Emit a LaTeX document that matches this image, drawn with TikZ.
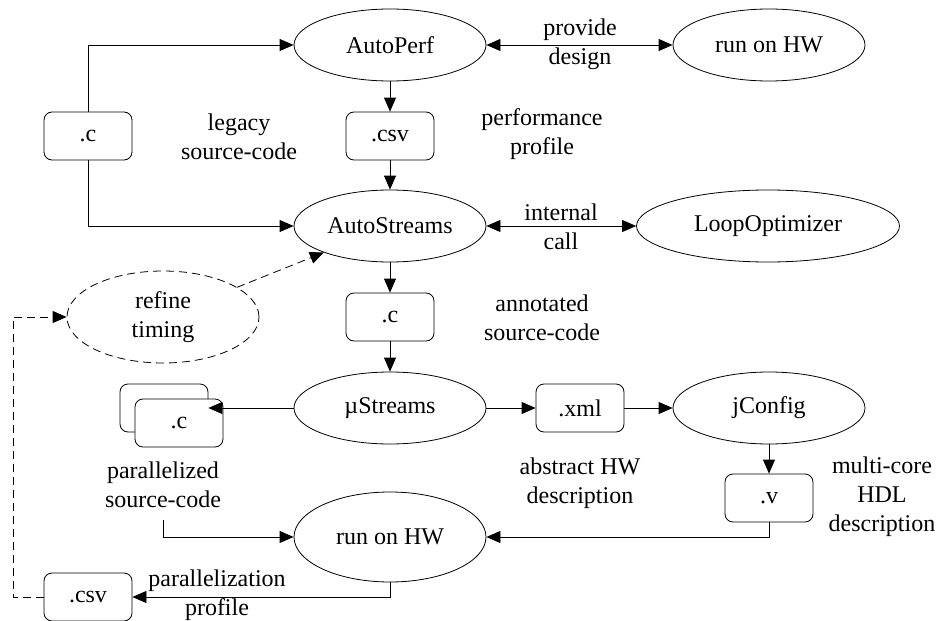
\documentclass[tikz,border=0pt]{standalone}
\usepackage{fontspec}
\newfontfamily\timesfont{Liberation Serif}
\usetikzlibrary{shapes.geometric,arrows.meta}
\begin{document}
\begin{tikzpicture}[x=1pt,y=-1pt,
  txt/.style={font=\timesfont\fontsize{24}{29}\selectfont},
  proc/.style={txt,ellipse,draw,line width=0.8pt,minimum width=192pt,minimum height=72pt,inner sep=0pt,align=center},
  file/.style={txt,rectangle,rounded corners=8pt,draw,line width=0.8pt,minimum width=88pt,minimum height=48pt,inner sep=0pt,fill=white},
  lbl/.style={txt,align=center,inner sep=0pt},
  arr/.style={-{Triangle[length=14pt,width=12pt]},line width=0.8pt},
  biarr/.style={{Triangle[length=14pt,width=12pt]}-{Triangle[length=14pt,width=12pt]},line width=0.8pt},
  dsh/.style={dash pattern=on 8pt off 5pt},
]
\useasboundingbox (0,0) rectangle (938,621);

% nodes
\node[proc] (autoperf) at (390,45) {AutoPerf};
\node[proc] (hw1) at (769,45) {run on HW};
\node[file] (c1) at (88,136) {.c};
\node[file] (csv1) at (390,136) {.csv};
\node[proc] (autostreams) at (390,226) {AutoStreams};
\node[proc,minimum width=263pt] (loop) at (768,226) {LoopOptimizer};
\node[proc,dsh,minimum height=92pt] (refine) at (163,317) {refine\\timing};
\node[file] (c2) at (390,317) {.c};
\node[proc] (ustreams) at (390,408) {µStreams};
\node[file] (xml) at (580,408) {.xml};
\node[proc] (jconfig) at (769,408) {jConfig};
\node[file] (cback) at (164,408) {};
\node[file] (cfront) at (179,423) {.c};
\node[file] (v) at (769,498) {.v};
\node[proc,minimum height=90pt] (hw2) at (390,537) {run on HW};
\node[file] (csv2) at (88,597) {.csv};

% labels
\node[lbl] (lprov) at (580,44) {provide\\design};
\node[lbl] (llegacy) at (239,137) {legacy\\source-code};
\node[lbl] (lperf) at (542,134) {performance\\profile};
\node[lbl] (lint) at (561,227) {internal\\call};
\node[lbl] (lann) at (542,318) {annotated\\source-code};
\node[lbl] (lpar) at (163,485) {parallelized\\source-code};
\node[lbl] (labs) at (580,483) {abstract HW\\description};
\node[lbl] (lmc) at (882,497) {multi-core\\HDL\\description};
\node[lbl] (lpp) at (217,595) {parallelization\\profile};

\coordinate (pstart) at (163,520);
\coordinate (dl) at (13,597);

% connectors
\draw[arr] (c1.north) |- (autoperf.west);
\draw[arr] (c1.south) |- (autostreams.west);
\draw[biarr] (autoperf) -- (hw1);
\draw[arr] (autoperf) -- (csv1);
\draw[arr] (csv1) -- (autostreams);
\draw[biarr] (autostreams) -- (loop);
\draw[arr,dsh] (refine) -- (autostreams);
\draw[arr] (autostreams) -- (c2);
\draw[arr] (c2) -- (ustreams);
\draw[arr] (ustreams) -- (cback.east);
\draw[arr] (ustreams) -- (xml);
\draw[arr] (xml) -- (jconfig);
\draw[arr] (jconfig) -- (v);
\draw[arr] (v.south) |- (hw2.east);
\draw[arr] (pstart) |- (hw2.west);
\draw[arr] (hw2.south) |- (csv2.east);
\draw[arr,dsh] (csv2.west) -- (dl) |- (refine.west);
\end{tikzpicture}
\end{document}
